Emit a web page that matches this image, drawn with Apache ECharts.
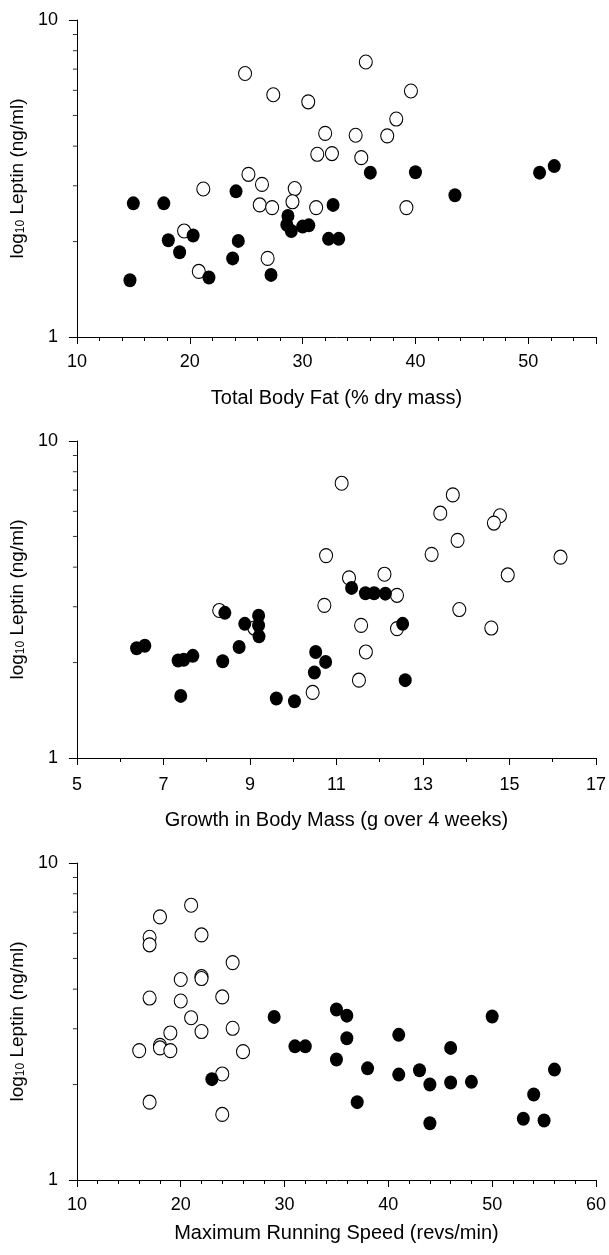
<!DOCTYPE html>
<html><head><meta charset="utf-8">
<script src="https://cdn.jsdelivr.net/npm/echarts@6/dist/echarts.min.js"></script>
<style>html,body{margin:0;padding:0;background:#fff}#c{width:609px;height:1255px}</style>
</head><body><div id="c"></div>
<script>
// Panel 1: Total Body Fat (% dry mass) vs leptin
const fatOpen = [[24.9,6.78],[27.4,5.81],[30.5,5.52],[35.6,7.37],[39.6,5.97],[38.3,4.87],[32.0,4.39],[34.7,4.33],[37.5,4.31],[31.3,3.77],[32.6,3.79],[35.2,3.68],[25.2,3.26],[26.4,3.03],[29.3,2.94],[21.2,2.93],[26.2,2.61],[27.3,2.56],[29.1,2.67],[31.2,2.56],[39.2,2.56],[19.5,2.16],[26.9,1.77],[20.8,1.61]];
const fatFilled = [[15.0,2.64],[14.7,1.51],[17.7,2.64],[18.1,2.02],[19.1,1.85],[20.3,2.09],[21.7,1.54],[24.1,2.88],[24.3,2.01],[23.8,1.77],[27.2,1.57],[28.7,2.41],[28.6,2.26],[29.0,2.16],[30.0,2.23],[30.55,2.25],[32.7,2.61],[32.3,2.04],[33.2,2.04],[36.0,3.30],[40.0,3.31],[43.5,2.80],[51.0,3.30],[52.3,3.46]];
// Panel 2: Growth in Body Mass (g over 4 weeks) vs leptin
const growthOpen = [[11.12,7.36],[13.69,6.76],[13.4,5.92],[14.78,5.81],[14.64,5.51],[13.8,4.86],[10.76,4.35],[13.2,4.39],[16.18,4.30],[11.29,3.70],[12.11,3.80],[14.96,3.78],[12.4,3.26],[10.72,3.03],[8.29,2.92],[13.84,2.94],[11.57,2.62],[12.4,2.56],[14.58,2.57],[9.1,2.57],[11.68,2.16],[11.52,1.76],[10.45,1.61]];
const growthFilled = [[6.38,2.22],[6.57,2.26],[7.34,2.03],[7.47,2.04],[7.68,2.10],[7.4,1.57],[8.37,2.02],[8.42,2.87],[8.75,2.24],[8.88,2.65],[9.2,2.81],[9.2,2.62],[9.21,2.42],[9.61,1.54],[10.03,1.51],[10.52,2.16],[10.49,1.86],[10.75,2.01],[11.35,3.44],[11.67,3.31],[11.87,3.31],[12.13,3.30],[12.53,2.65],[12.59,1.76]];
// Panel 3: Maximum Running Speed (revs/min) vs leptin
const speedOpen = [[21,7.36],[18,6.76],[17,5.83],[17,5.52],[22,5.93],[25,4.85],[20,4.29],[22,4.38],[22,4.32],[17,3.75],[20,3.67],[24,3.78],[21,3.25],[19,2.91],[22,2.94],[25,3.01],[16,2.56],[18,2.66],[18,2.61],[19,2.56],[26,2.54],[24,2.16],[17,1.76],[24,1.61]];
const speedFilled = [[23,2.08],[29,3.27],[31,2.64],[32,2.64],[35,3.45],[36,3.30],[36,2.80],[35,2.40],[38,2.25],[37,1.76],[41,2.87],[41,2.15],[43,2.22],[44,2.00],[44,1.51],[46,2.61],[46,2.03],[48,2.04],[50,3.28],[53,1.56],[54,1.86],[55,1.54],[56,2.23]];
// y axis minor tick values (log axis)
const yMinorTicks = [2,3,4,5,6,7,8,9];
const xTitles = ['Total Body Fat (% dry mass)','Growth in Body Mass (g over 4 weeks)','Maximum Running Speed (revs/min)'];
const yTitle = '{n|log}{s|10}{n| Leptin (ng/ml)}';

const FONT = '"Liberation Sans", Arial, Helvetica, sans-serif';
const panels = [
  {min:10,max:56,interval:10,split:5,open:fatOpen,filled:fatFilled,top:20,height:317,labelMargin:16,nameGap:51},
  {min:5,max:17,interval:2,split:2,open:growthOpen,filled:growthFilled,top:441,height:317,labelMargin:18,nameGap:52},
  {min:10,max:60,interval:10,split:5,open:speedOpen,filled:speedFilled,top:863,height:317,labelMargin:16,nameGap:43}
];

const grid=[],xAxis=[],yAxis=[],series=[];
panels.forEach((p,i)=>{
  grid.push({left:71,width:525,top:p.top,height:p.height});
  xAxis.push({
    type:'value',gridIndex:i,min:p.min,max:p.max,interval:p.interval,
    name:xTitles[i],nameLocation:'middle',nameGap:p.nameGap,
    nameTextStyle:{fontFamily:FONT,fontSize:20,color:'#000'},
    axisLine:{show:true,lineStyle:{color:'#000',width:1}},
    axisTick:{show:true,length:7,lineStyle:{color:'#000',width:1}},
    minorTick:{show:true,splitNumber:p.split,length:4,lineStyle:{color:'#000',width:1}},
    splitLine:{show:false},minorSplitLine:{show:false},
    axisLabel:{fontFamily:FONT,fontSize:18,color:'#000',margin:p.labelMargin,
      formatter:v=>((v-p.min)%p.interval===0?String(v):'')}
  });
  yAxis.push({
    type:'log',logBase:10,gridIndex:i,min:1,max:10,
    name:yTitle,nameLocation:'middle',nameRotate:90,nameGap:38,
    nameTextStyle:{fontFamily:FONT,fontSize:19,color:'#000',
      rich:{n:{fontFamily:FONT,fontSize:19,color:'#000'},
            s:{fontFamily:FONT,fontSize:12,color:'#000',verticalAlign:'bottom'}}},
    axisLine:{show:true,lineStyle:{color:'#000',width:1}},
    axisTick:{show:true,length:8,lineStyle:{color:'#000',width:1}},
    splitLine:{show:false},
    axisLabel:{fontFamily:FONT,fontSize:18,color:'#000',margin:19}
  });
  series.push({
    type:'scatter',xAxisIndex:i,yAxisIndex:i,silent:true,clip:false,z:1,
    symbol:'rect',symbolSize:[4,1],symbolOffset:[-2,0],
    itemStyle:{color:'#000'},
    data:yMinorTicks.map(v=>[p.min,v])
  });
  series.push({
    type:'scatter',xAxisIndex:i,yAxisIndex:i,z:2,
    symbol:'circle',symbolSize:[13,14],
    itemStyle:{color:'#fff',borderColor:'#000',borderWidth:1.1,opacity:1},
    data:p.open
  });
  series.push({
    type:'scatter',xAxisIndex:i,yAxisIndex:i,z:3,
    symbol:'circle',symbolSize:[13,14],
    itemStyle:{color:'#000',opacity:1},
    data:p.filled
  });
});

const chart = echarts.init(document.getElementById('c'),null,{renderer:'canvas'});
chart.setOption({backgroundColor:'#fff',animation:false,grid,xAxis,yAxis,series});
</script>
</body></html>
